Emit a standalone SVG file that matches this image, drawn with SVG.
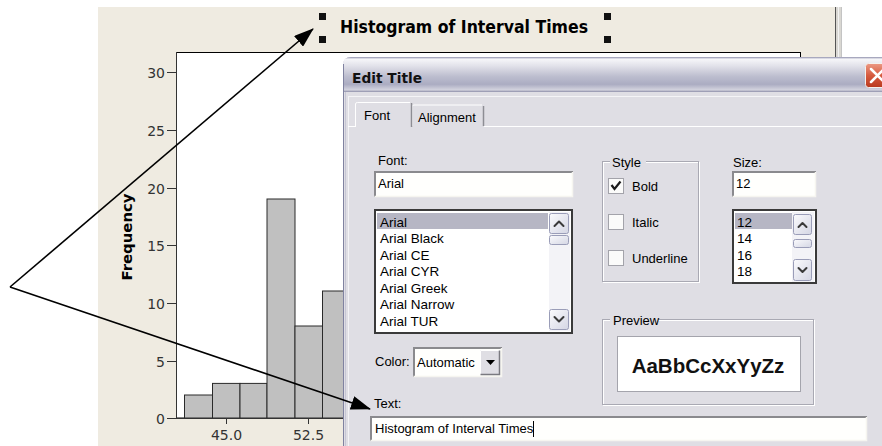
<svg xmlns="http://www.w3.org/2000/svg" width="882" height="446" viewBox="0 0 882 446">
  <defs>
    <style>
      .ui { font-family: "Liberation Sans", Arial, sans-serif; font-size: 13px; fill: #000; }
      .list { font-family: "Liberation Sans", Arial, sans-serif; font-size: 13.5px; fill: #000; }
      .axis { font-family: "DejaVu Sans", Verdana, sans-serif; font-size: 14px; fill: #333; }
      .bar { fill: #C0C0C0; stroke: #2a2a2a; stroke-width: 1; }
      .tick { stroke: #333; stroke-width: 1; }
      .sunken { fill: #FFFFFD; stroke: none; }
      .shade-dark { stroke: #8A8A8E; stroke-width: 2; fill: none; }
      .shade-light { stroke: #F6F5F0; stroke-width: 1.5; fill: none; }
      .group-line { fill: none; stroke: #A9A9B3; stroke-width: 1; }
      .group-hi { fill: none; stroke: #FFFFFF; stroke-width: 1; }
      .chk { fill: #FBFBFA; stroke: #A3A3AA; stroke-width: 1; }
      .sbtn { fill: url(#sbtnGrad); stroke: #9A9DB8; stroke-width: 1; }
      .chev { fill: none; stroke: #3a3a3a; stroke-width: 2; stroke-linecap: round; stroke-linejoin: round; }
      .connector { fill: none; stroke: #000; stroke-width: 1.6; }
      .sel { fill: #B6B6C4; }
    </style>
    <linearGradient id="titleGrad" x1="0" y1="0" x2="0" y2="1">
      <stop offset="0" stop-color="#8F90AC"/>
      <stop offset="0.06" stop-color="#F6F6F9"/>
      <stop offset="0.25" stop-color="#E2E2EA"/>
      <stop offset="0.55" stop-color="#BDBECF"/>
      <stop offset="0.78" stop-color="#ABACC2"/>
      <stop offset="0.94" stop-color="#D3D3DE"/>
      <stop offset="1" stop-color="#8E8FA9"/>
    </linearGradient>
    <linearGradient id="closeGrad" x1="0" y1="0" x2="0" y2="1">
      <stop offset="0" stop-color="#EC9A85"/>
      <stop offset="0.5" stop-color="#D65A3E"/>
      <stop offset="1" stop-color="#B9391E"/>
    </linearGradient>
    <linearGradient id="sbtnGrad" x1="0" y1="0" x2="1" y2="1">
      <stop offset="0" stop-color="#FBFBFD"/>
      <stop offset="1" stop-color="#D4D6E4"/>
    </linearGradient>
    <marker id="arrow" viewBox="0 0 20 14" refX="19" refY="7" markerWidth="20" markerHeight="14" markerUnits="userSpaceOnUse" orient="auto">
      <path d="M0,0 L20,7 L0,14 Z" fill="#000"/>
    </marker>
  </defs>

  <rect width="882" height="446" fill="#FFFFFF"/>

  <!-- graph window -->
  <g id="graph">
    <rect x="98" y="7" width="737" height="439" fill="#EFEBE1"/>
    <line x1="835.5" y1="7" x2="835.5" y2="446" stroke="#555" stroke-width="1"/>
    <rect x="836" y="7" width="6" height="439" fill="#D9D7D2"/>
    <line x1="838.5" y1="7" x2="838.5" y2="446" stroke="#F2F2F2" stroke-width="1"/>
    <line x1="841.5" y1="7" x2="841.5" y2="446" stroke="#C4C4C4" stroke-width="1"/>

    <!-- plot title with selection handles -->
    <g id="chart-title">
      <text x="340" y="33" font-family="'DejaVu Sans', Verdana, sans-serif" font-size="17" font-weight="bold" fill="#000" textLength="248" lengthAdjust="spacingAndGlyphs">Histogram of Interval Times</text>
      <rect x="319" y="13" width="7" height="7" fill="#111"/>
      <rect x="319" y="36" width="7" height="7" fill="#111"/>
      <rect x="604" y="13" width="7" height="7" fill="#111"/>
      <rect x="604" y="36" width="7" height="7" fill="#111"/>
    </g>

    <!-- plot area -->
    <rect x="176.5" y="52.5" width="624" height="365.5" fill="#FFFFFF" stroke="#000" stroke-width="1"/>

    <g id="bars">
      <rect class="bar" x="184.5" y="395" width="28" height="23"/>
      <rect class="bar" x="212.5" y="383.4" width="27.5" height="34.6"/>
      <rect class="bar" x="240" y="383.4" width="27" height="34.6"/>
      <rect class="bar" x="267" y="199" width="28" height="219"/>
      <rect class="bar" x="295" y="326" width="27.5" height="92"/>
      <rect class="bar" x="322.5" y="291" width="27.5" height="127"/>
    </g>

    <g id="y-axis">
      <line x1="176.5" y1="52" x2="176.5" y2="418.5" stroke="#333"/>
      <line class="tick" x1="167" y1="418.5" x2="176" y2="418.5"/>
      <line class="tick" x1="167" y1="361.5" x2="176" y2="361.5"/>
      <line class="tick" x1="167" y1="303.5" x2="176" y2="303.5"/>
      <line class="tick" x1="167" y1="245.5" x2="176" y2="245.5"/>
      <line class="tick" x1="167" y1="188.5" x2="176" y2="188.5"/>
      <line class="tick" x1="167" y1="130.5" x2="176" y2="130.5"/>
      <line class="tick" x1="167" y1="72.5" x2="176" y2="72.5"/>
      <text class="axis" x="165" y="423.5" text-anchor="end">0</text>
      <text class="axis" x="165" y="366.5" text-anchor="end">5</text>
      <text class="axis" x="165" y="308.5" text-anchor="end">10</text>
      <text class="axis" x="165" y="250.5" text-anchor="end">15</text>
      <text class="axis" x="165" y="193.5" text-anchor="end">20</text>
      <text class="axis" x="165" y="135.5" text-anchor="end">25</text>
      <text class="axis" x="165" y="77.5" text-anchor="end">30</text>
      <text transform="translate(132 237) rotate(-90)" font-family="'DejaVu Sans', Verdana, sans-serif" font-size="14" font-weight="bold" fill="#000" text-anchor="middle" textLength="87" lengthAdjust="spacingAndGlyphs">Frequency</text>
    </g>

    <g id="x-axis">
      <line x1="176" y1="418.5" x2="345" y2="418.5" stroke="#333"/>
      <line class="tick" x1="226.5" y1="418" x2="226.5" y2="424"/>
      <line class="tick" x1="308.5" y1="418" x2="308.5" y2="424"/>
      <text class="axis" x="226.5" y="440" text-anchor="middle">45.0</text>
      <text class="axis" x="308.5" y="440" text-anchor="middle">52.5</text>
    </g>
  </g>

  <!-- Edit Title dialog -->
  <g id="edit-title-dialog">
    <path d="M343,446 V65 Q343,57 351,57 H900 V446 Z" fill="#DFDEE4"/>
    <path d="M343,92 V65 Q343,57 351,57 H900 V92 Z" fill="url(#titleGrad)"/>
    <line x1="343.5" y1="64" x2="343.5" y2="446" stroke="#8082A0" stroke-width="1"/>
    <line x1="345.5" y1="92" x2="345.5" y2="446" stroke="#C6C6D4" stroke-width="1"/>
    <text x="352" y="83" font-family="'DejaVu Sans', Verdana, sans-serif" font-size="14" font-weight="bold" fill="#111" textLength="70" lengthAdjust="spacingAndGlyphs">Edit Title</text>

    <g id="close-button">
      <rect x="865.5" y="63.5" width="24" height="24" rx="3" fill="url(#closeGrad)" stroke="#F4F1EE" stroke-width="1"/>
      <path d="M871,69 L884,82 M884,69 L871,82" stroke="#FFFFFF" stroke-width="2.5" stroke-linecap="round"/>
    </g>

    <!-- client area frame -->
    <line x1="348" y1="96.5" x2="882" y2="96.5" stroke="#F4F4F6" stroke-width="1"/>
    <line x1="348.5" y1="97" x2="348.5" y2="446" stroke="#F4F4F6" stroke-width="1"/>

    <!-- tabs -->
    <g id="tabs">
      <line x1="348" y1="126.5" x2="355" y2="126.5" stroke="#FFFFFF"/>
      <line x1="484" y1="126.5" x2="882" y2="126.5" stroke="#FFFFFF"/>
      <path d="M412,126 V107 Q412,105 414,105 H482" fill="none" stroke="#FFFFFF" stroke-width="1"/>
      <line x1="483.5" y1="106" x2="483.5" y2="126" stroke="#8D8D94" stroke-width="1.5"/>
      <path d="M355.5,127 V104 Q355.5,102.5 357.5,102.5 H410" fill="none" stroke="#FFFFFF" stroke-width="1"/>
      <line x1="411.5" y1="103" x2="411.5" y2="127" stroke="#8D8D94" stroke-width="1.5"/>
      <text class="ui" x="364" y="120">Font</text>
      <text class="ui" x="418" y="122">Alignment</text>
    </g>

    <!-- font name -->
    <g id="font-field">
      <text class="ui" x="378" y="165">Font:</text>
      <rect class="sunken" x="374" y="171" width="199" height="26"/>
      <path class="shade-dark" d="M375,197 V172 H573"/>
      <path class="shade-light" d="M374.5,196.5 H572.5 V172"/>
      <text class="ui" x="378" y="188">Arial</text>
    </g>

    <!-- font list -->
    <g id="font-list">
      <rect x="375" y="210" width="197" height="123" fill="#FFFFFF" stroke="#3A3A3A" stroke-width="2"/>
      <rect class="sel" x="377" y="213" width="171" height="16"/>
      <text class="list" x="380" y="226.5">Arial</text>
      <text class="list" x="380" y="243">Arial Black</text>
      <text class="list" x="380" y="259.5">Arial CE</text>
      <text class="list" x="380" y="276">Arial CYR</text>
      <text class="list" x="380" y="292.5">Arial Greek</text>
      <text class="list" x="380" y="309">Arial Narrow</text>
      <text class="list" x="380" y="325.5">Arial TUR</text>
      <rect x="549" y="212" width="21" height="119" fill="#F3F3F7"/>
      <rect class="sbtn" x="549.5" y="213.5" width="19" height="20" rx="2"/>
      <path class="chev" d="M554.5,226 L559,221.5 L563.5,226"/>
      <rect class="sbtn" x="549.5" y="235.5" width="19" height="9" rx="2"/>
      <rect class="sbtn" x="549.5" y="309.5" width="19" height="20" rx="2"/>
      <path class="chev" d="M554.5,317 L559,321.5 L563.5,317"/>
    </g>

    <!-- style group -->
    <g id="style-group">
      <rect class="group-hi" x="603.5" y="162.5" width="96" height="120"/>
      <rect class="group-line" x="602.5" y="161.5" width="96" height="120"/>
      <rect x="610" y="158" width="36" height="8" fill="#DFDEE4"/>
      <text class="ui" x="612" y="167">Style</text>
      <rect class="chk" x="608.5" y="178.5" width="15" height="15"/>
      <path d="M611.5,185 L614.5,189 L620.5,181.5" fill="none" stroke="#1a1a1a" stroke-width="2.2"/>
      <text class="ui" x="632" y="191">Bold</text>
      <rect class="chk" x="608.5" y="214.5" width="15" height="15"/>
      <text class="ui" x="632" y="227">Italic</text>
      <rect class="chk" x="608.5" y="250.5" width="15" height="15"/>
      <text class="ui" x="632" y="263">Underline</text>
    </g>

    <!-- size -->
    <g id="size-field">
      <text class="ui" x="733" y="167">Size:</text>
      <rect class="sunken" x="732" y="171" width="84" height="26"/>
      <path class="shade-dark" d="M733,197 V172 H816"/>
      <path class="shade-light" d="M732.5,196.5 H815.5 V172"/>
      <text class="ui" x="736" y="188">12</text>
    </g>

    <g id="size-list">
      <rect x="733" y="210" width="83" height="73" fill="#FFFFFF" stroke="#3A3A3A" stroke-width="2"/>
      <rect class="sel" x="735" y="213" width="57" height="16"/>
      <text class="list" x="737" y="226.5">12</text>
      <text class="list" x="737" y="243">14</text>
      <text class="list" x="737" y="259.5">16</text>
      <text class="list" x="737" y="276">18</text>
      <rect x="792" y="212" width="22" height="70" fill="#F3F3F7"/>
      <rect class="sbtn" x="793.5" y="214.5" width="18" height="20" rx="2"/>
      <path class="chev" d="M798.5,227 L802.5,223 L806.5,227"/>
      <rect class="sbtn" x="793.5" y="239.5" width="18" height="8" rx="2"/>
      <rect class="sbtn" x="793.5" y="259.5" width="18" height="21" rx="2"/>
      <path class="chev" d="M798.5,268 L802.5,272 L806.5,268"/>
    </g>

    <!-- preview group -->
    <g id="preview-group">
      <rect class="group-hi" x="603.5" y="320.5" width="211" height="85"/>
      <rect class="group-line" x="602.5" y="319.5" width="211" height="85"/>
      <rect x="610" y="316" width="48" height="8" fill="#DFDEE4"/>
      <text class="ui" x="613" y="325">Preview</text>
      <rect x="617.5" y="336.5" width="183" height="55" fill="#FFFFFF" stroke="#A4A4AC" stroke-width="1"/>
      <text x="708" y="373" font-family="'Liberation Sans', Arial, sans-serif" font-size="20.5" font-weight="bold" fill="#111" text-anchor="middle">AaBbCcXxYyZz</text>
    </g>

    <!-- colour picker -->
    <g id="color-field">
      <text class="ui" x="375" y="366">Color:</text>
      <rect class="sunken" x="413" y="347" width="89" height="30"/>
      <path class="shade-dark" d="M414,377 V348 H502"/>
      <path class="shade-light" d="M413.5,376.5 H501.5 V348"/>
      <text class="ui" x="417" y="367">Automatic</text>
      <rect x="480" y="350" width="20" height="25" fill="#DFDEE4"/>
      <path d="M480.5,375 V350.5 H500" fill="none" stroke="#FFFFFF" stroke-width="1"/>
      <path d="M480.5,374.5 H499.5 V350.5" fill="none" stroke="#7A7A80" stroke-width="1.5"/>
      <path d="M486,360 H495 L490.5,365 Z" fill="#000"/>
    </g>

    <!-- title text -->
    <g id="text-field">
      <text class="ui" x="374" y="408">Text:</text>
      <rect class="sunken" x="370" y="416" width="497" height="25"/>
      <path class="shade-dark" d="M371,441 V417 H867"/>
      <path class="shade-light" d="M370.5,440.5 H866.5 V417"/>
      <text class="ui" x="375" y="433">Histogram of Interval Times</text>
      <line x1="533.5" y1="421" x2="533.5" y2="437" stroke="#000" stroke-width="1"/>
    </g>
  </g>

  <!-- callout arrows -->
  <g id="connectors">
    <line class="connector" x1="10" y1="287" x2="313" y2="29" marker-end="url(#arrow)"/>
    <line class="connector" x1="10" y1="287" x2="370" y2="409" marker-end="url(#arrow)"/>
  </g>
</svg>
